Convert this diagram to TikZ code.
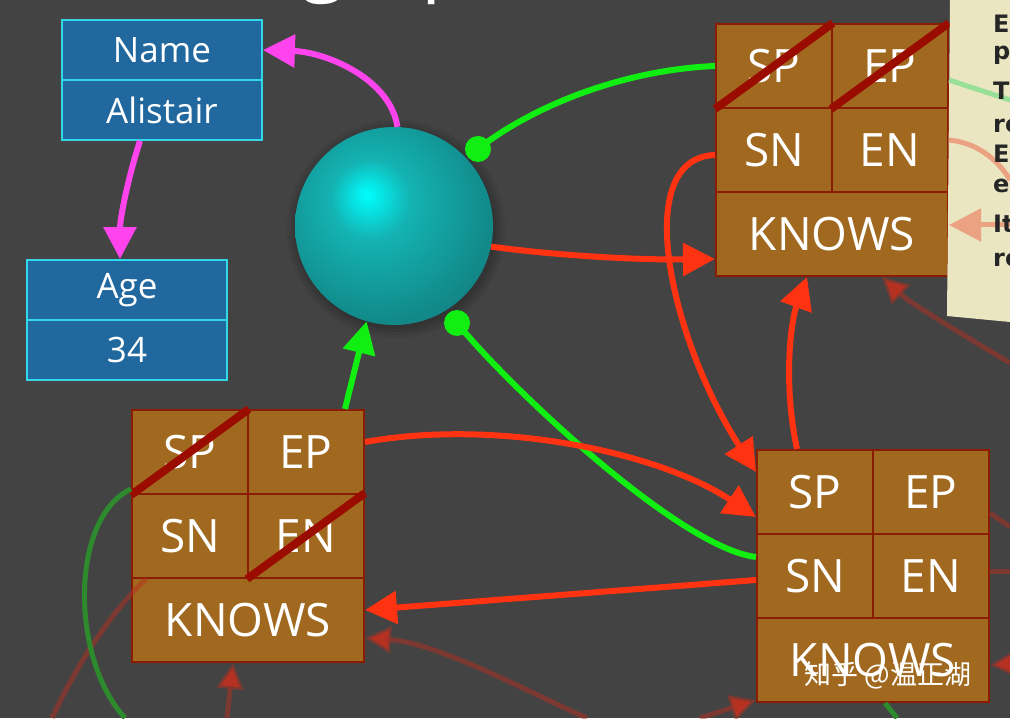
\documentclass[tikz,border=0pt]{standalone}
\usepackage{fontspec}
\setmainfont{Open Sans}
\newfontfamily\cjkfont{Noto Sans CJK SC}
\newfontfamily\notefont{DejaVu Sans}
\usetikzlibrary{arrows.meta}

\definecolor{bg}{HTML}{434343}
\definecolor{propfill}{HTML}{21689E}
\definecolor{propline}{HTML}{30D8E8}
\definecolor{relfill}{HTML}{A0691F}
\definecolor{relline}{HTML}{8A1C02}
\definecolor{strikered}{HTML}{9B0C00}
\definecolor{linkred}{HTML}{FF3311}
\definecolor{linkgreen}{HTML}{11EE11}
\definecolor{linkpink}{HTML}{FF44EE}
\definecolor{fadedred}{HTML}{B53121}
\definecolor{fadedgreen}{HTML}{2D8A2D}
\definecolor{notepaper}{HTML}{E9E6C1}
\definecolor{notegreen}{HTML}{98E098}
\definecolor{notesalmon}{HTML}{EBA282}
\definecolor{notetext}{HTML}{262626}
\definecolor{ballmid}{HTML}{14B3B3}
\definecolor{ballout}{HTML}{128A8A}
\definecolor{balledge}{HTML}{0D6868}
\definecolor{ballrim}{HTML}{0B5454}

\pgfdeclareradialshading{nodeball}{\pgfpoint{-7bp}{8bp}}{color(0bp)=(cyan); color(10bp)=(ballmid); color(28bp)=(ballout); color(50bp)=(balledge); color(64bp)=(ballrim)}

\begin{document}
\begin{tikzpicture}[x=1pt,y=1pt,
  propcell/.style={draw=propline, line width=1.8pt, fill=propfill, minimum width=200pt, minimum height=60pt, inner sep=0pt, text=white, font=\fontsize{35}{35}\selectfont},
  relcell/.style={draw=relline, line width=2pt, fill=relfill, minimum width=116pt, minimum height=84pt, inner sep=0pt, text=white, font=\fontsize{46}{46}\selectfont},
  relwide/.style={relcell, minimum width=232pt},
  strike/.style={draw=strikered, line width=8pt},
  bigtip/.style={-{Triangle[length=32pt,width=32pt]}},
  fadedtip/.style={-{Triangle[length=26pt,width=26pt]}},
  redlink/.style={draw=linkred, line width=6pt},
  greenlink/.style={draw=linkgreen, line width=6pt},
  pinklink/.style={draw=linkpink, line width=6pt},
  fadedlink/.style={draw=fadedred, line width=5pt, draw opacity=0.5},
  notelink/.style={line width=5pt}]

\useasboundingbox (0,0) rectangle (1010,718);
\fill[bg] (0,0) rectangle (1010,718);
\clip (0,0) rectangle (1010,718);

\node[anchor=base west, inner sep=0pt, text=white, font=\fontsize{80}{80}\selectfont] (title) at (110,732) {Your graph on disk};

% properties
\node[propcell] (name) at (162,668) {Name};
\node[propcell] (alistair) at (162,608) {Alistair};
\node[propcell] (age) at (127,428) {Age};
\node[propcell] (agevalue) at (127,368) {34};

% the node
\foreach \r in {100,103,106,109}
  \fill[black, opacity=0.06] (396,489) circle (\r);
\node[circle, minimum size=198pt, inner sep=0pt, shade, shading=nodeball] (sphere) at (394,492) {};

% relationships
\node[relcell] (r1sp) at (774,652) {SP};
\node[relcell] (r1ep) at (890,652) {EP};
\node[relcell] (r1sn) at (774,568) {SN};
\node[relcell] (r1en) at (890,568) {EN};
\node[relwide] (r1kn) at (832,484) {KNOWS};

\node[relcell] (r2sp) at (190,266) {SP};
\node[relcell] (r2ep) at (306,266) {EP};
\node[relcell] (r2sn) at (190,182) {SN};
\node[relcell] (r2en) at (306,182) {EN};
\node[relwide] (r2kn) at (248,98) {KNOWS};

\node[relcell] (r3sp) at (815,226) {SP};
\node[relcell] (r3ep) at (931,226) {EP};
\node[relcell] (r3sn) at (815,142) {SN};
\node[relcell] (r3en) at (931,142) {EN};
\node[relwide] (r3kn) at (873,58) {KNOWS};

\draw[strike] (r1sp.south west) -- (r1sp.north east);
\draw[strike] (r1ep.south west) -- (r1ep.north east);
\draw[strike] (r2sp.south west) -- (r2sp.north east);
\draw[strike] (r2en.south west) -- (r2en.north east);

% other relationships, in the background
\coordinate (f1) at (227,0);
\coordinate (f2) at (52,0);
\coordinate (f3) at (587,0);
\coordinate (f4) at (700,0);
\coordinate (f5) at (1010,191);
\coordinate (f6) at (1010,146);
\coordinate (f7) at (1030,55);
\coordinate (f8) at (1010,355);
\coordinate (g1) at (125,0);
\coordinate (g2) at (897,0);
\draw[fadedlink, fadedtip] (f1) -- ([xshift=-15pt]r2kn.south);
\draw[fadedlink] (f2) .. controls (80,60) and (115,110) .. ([xshift=15pt,yshift=-2pt]r2kn.north west);
\draw[fadedlink, fadedtip] (f3) .. controls (540,20) and (440,75) .. ([yshift=-18pt]r2kn.east);
\draw[fadedlink, fadedtip] (f4) -- ([yshift=-40pt]r3kn.west);
\draw[fadedlink] ([yshift=-21pt]r3ep.east) -- (f5);
\draw[fadedlink] ([yshift=4pt]r3en.east) -- (f6);
\draw[fadedlink, fadedtip] (f7) -- ([yshift=-5pt]r3kn.east);
\draw[fadedlink, fadedtip] (f8) .. controls (960,385) and (910,415) .. ([xshift=50pt]r1kn.south);
\draw[draw=fadedgreen, line width=5pt] ([yshift=6pt]r2sp.south west) .. controls (70,200) and (70,60) .. (g1);
\draw[draw=fadedgreen, line width=5pt] ([xshift=12pt]r3kn.south) -- (g2);

% property links
\draw[pinklink, bigtip] (sphere.88) .. controls (390,640) and (325,666) .. (name.east);
\draw[pinklink, bigtip] ([xshift=-22pt]alistair.south) .. controls (128,540) and (120,500) .. ([xshift=-7pt]age.north);

% green links
\coordinate (dotA) at (478,569);
\coordinate (dotB) at (457,395);
\draw[greenlink] (r1sp.west) .. controls (620,648) and (530,610) .. (dotA);
\fill[linkgreen] (dotA) circle (13);
\draw[greenlink] ([yshift=19pt]r3sn.west) .. controls (680,170) and (510,330) .. (dotB);
\fill[linkgreen] (dotB) circle (13);
\draw[greenlink, bigtip] ([xshift=39pt]r2ep.north) -- (sphere.254);

% red links
\draw[redlink, bigtip] (sphere.-12) .. controls (560,462) and (640,458) .. ([yshift=-25pt]r1kn.west);
\draw[redlink, bigtip] ([yshift=-5pt]r1sn.west) .. controls (630,560) and (670,380) .. ([yshift=20pt]r3sp.west);
\draw[redlink, bigtip] ([xshift=-18pt]r3sp.north) .. controls (782,340) and (792,400) .. ([xshift=-25pt]r1kn.south);
\draw[redlink, bigtip] ([yshift=10pt]r2ep.east) .. controls (500,300) and (660,265) .. ([yshift=-25pt]r3sp.west);
\draw[redlink, bigtip] ([yshift=-4pt]r3sn.west) -- ([yshift=10pt]r2kn.east);

% the note
\fill[notepaper] (950,718) -- (1010,718) -- (1010,396) -- (947,402) -- cycle;
\coordinate (n1) at (1010,618);
\coordinate (n2) at (1010,538);
\coordinate (n3) at (1030,493);
\draw[notelink, draw=notegreen] ([yshift=-14pt]r1ep.east) -- (n1);
\draw[notelink, draw=notesalmon] ([yshift=10pt]r1en.east) .. controls (980,575) and (1000,555) .. (n2);
\draw[notelink, draw=notesalmon, bigtip] (n3) -- ([yshift=9pt]r1kn.east);
\foreach \y/\t [count=\i] in {685/E, 658/p, 618/T, 585/re, 555/E, 525/en, 485/It, 451/re}
  \node[anchor=base west, inner sep=0pt, text=notetext, font=\notefont\bfseries\fontsize{24}{24}\selectfont] (note\i) at (993,\y) {\t};

\node[text=white, font=\cjkfont\fontsize{27}{27}\selectfont] (mark) at (888,43) {知乎 @温正湖};

\end{tikzpicture}
\end{document}
